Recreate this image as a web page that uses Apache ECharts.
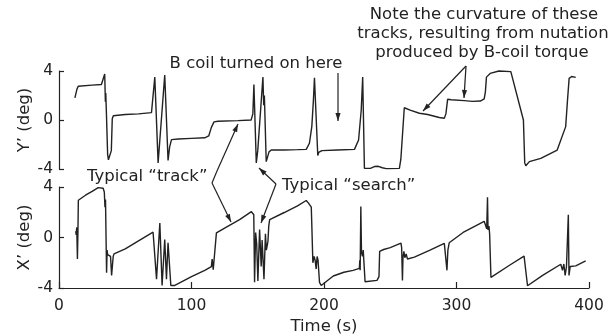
<!DOCTYPE html>
<html>
<head>
<meta charset="utf-8">
<script src="https://cdn.jsdelivr.net/npm/echarts@6/dist/echarts.min.js"></script>
<style>html,body{margin:0;padding:0;background:#fff}#c{width:612px;height:336px}</style>
</head>
<body>
<div id="c"></div>
<script>
// ---- Data ----
var yPrimeTime = [12,13.5,14.5,16,25,32,33.5,34.5,35,35.3,35.8,36.7,37.3,38.5,39.5,40.2,41,50,60,69.8,72.3,74.8,79.8,82.3,83.5,84.9,90,100,110,113,115,117,120,135,145,146.3,147.1,148.9,150,153.9,154.5,155,156.4,157.5,158.5,160.2,170,180,186.6,189,190.8,192,192.8,194.1,195.3,196,198.4,210,223,226.1,228.1,229.2,230.5,235,238,241,244,247,256.9,258,260.6,265,272,278.2,287,290.8,292,293.3,296,305.8,312,318,320.9,321.8,322.6,323.6,325.4,332,341,350.5,351.5,352.3,355,363.6,376,382.4,383.7,385,386.9,390,397.5];
var yPrimeValue = [1.8,2.5,2.75,2.8,2.85,2.9,3.0,3.75,1.5,2.2,0.5,-2.8,-3.25,-3.3,-2.5,0.1,0.35,0.45,0.5,0.6,3.5,-3.5,3.67,-3.3,-2.2,-1.6,-1.55,-1.5,-1.45,-1.3,-0.6,-0.15,-0.1,-0.05,0,0.5,2.9,-3.5,-2.5,3.5,1.2,2.0,-3.4,-3.3,-2.6,-2.45,-2.45,-2.42,-2.4,-1.9,-0.54,1.6,3.45,3.45,-2.9,-2.65,-2.5,-2.45,-2.4,-1.63,0.82,3.5,-3.95,-3.95,-3.8,-3.78,-3.9,-3.97,-3.95,-3.2,1.0,0.8,0.55,0.45,0.2,0.14,0.5,1.69,1.65,1.58,1.52,1.55,1.72,2.3,3.5,3.65,3.8,4.0,3.95,0,-3.5,-3.74,-3.4,-3.13,-2.45,-0.54,1.5,3.4,3.55,3.48];

var xPrimeTime = [12.6,13.0,13.4,13.9,14.3,14.6,16,20,25,29.6,33.3,34.2,34.7,35.1,35.9,36.3,36.7,38.9,39.7,40.9,41.5,50,60,71,73.6,76.1,77.8,79.8,81.1,82.3,84.4,87.4,100,110,115,115.6,116.4,118.8,125,136.3,145.2,146.5,147.0,147.6,148.4,149.2,150.1,151.4,152.6,153.3,154.7,155.8,156.5,157.7,158.3,159,170,180,186.6,188.3,190.4,190.8,191.6,192.5,193.3,194.1,194.8,195.5,196.6,197.9,207,215,222,226.7,227.0,227.3,227.8,228.3,229,229.6,231,232,240,241.5,242,245,250,258.1,258.6,259.2,259.6,260.3,261,262,263,268.2,280,290.8,291.8,292.8,293.5,294.5,305,320.9,322,322.8,323.4,323.8,324.5,325,326,340,351,353.6,365,378.7,380,381,382,383,384.4,384.9,385.8,390,397.5];
var xPrimeValue = [0.5,0.2,0.8,-1.7,0.5,2.95,3.1,3.35,3.65,3.95,3.9,3.6,2.4,3.0,-2.8,-1.0,-1.35,-1.5,-3.0,-1.5,-1.3,-0.9,-0.27,0.42,-3.3,1.15,-3.8,-0.16,-3.3,-0.42,-3.8,-3.8,-3.1,-2.6,-2.3,-1.7,-2.55,0.37,0.75,1.41,2.05,2.15,1.8,-3.55,0.4,-0.5,-3.45,0.63,-2.3,-0.2,-3.3,0.3,-1.0,-0.3,0.9,1.41,1.98,2.5,2.93,2.72,2.4,1.0,-2.0,-1.5,-1.8,-2.5,-1.5,-1.8,-3.55,-3.8,-3.05,-2.75,-2.6,-2.45,-1.8,-2.6,2.46,-1.2,-1.5,-1.0,-3.5,-3.55,-3.4,-3.1,-1.1,-0.95,-0.8,-0.45,-0.8,-3.4,-1.6,-1.1,-1.6,-1.3,-1.7,-1.55,-1.0,-0.47,-0.6,-2.6,-1.0,-0.42,0.4,1.28,1.2,0.7,3.19,0.6,0.9,0.3,-3.16,-2.2,-1.47,-3.82,-3.0,-2.12,-2.6,-2.1,-3.0,-2.3,1.8,-3.0,-2.3,-2.25,-1.86];

var timeTicks = [0, 100, 200, 300, 400];
var degTicks = [-4, 0, 4];

// ---- Chart ----
function zip(a, b) { return a.map(function (t, i) { return [t, b[i]]; }); }
var FONT = 'DejaVu Sans';
var INK = '#222222';

function yAxisCfg(grid, name) {
  return {
    gridIndex: grid, type: 'value', min: degTicks[0], max: degTicks[degTicks.length - 1], interval: 4,
    axisLine: { show: true, onZero: false, lineStyle: { color: INK, width: 1.2 } },
    axisTick: { show: true, inside: true, length: 5, lineStyle: { color: INK, width: 1.2 } },
    axisLabel: { fontSize: 15.5, color: INK, fontFamily: FONT, margin: 6 },
    splitLine: { show: false },
    name: name, nameLocation: 'middle', nameGap: 26, nameRotate: 90, nameMoveOverlap: false,
    nameTextStyle: { fontSize: 16.5, color: INK, fontFamily: FONT }
  };
}

var graphics = [];
function addText(txt, x, y, align) {
  graphics.push({ type: 'text', silent: true, style: { text: txt, x: x, y: y, fill: INK,
    font: '16.5px "' + FONT + '"', textAlign: align || 'center', textVerticalAlign: 'middle',
    align: align || 'center', verticalAlign: 'middle' } });
}
function addArrow(x1, y1, x2, y2, head) {
  graphics.push({ type: 'line', silent: true, shape: { x1: x1, y1: y1, x2: x2, y2: y2 },
    style: { stroke: INK, lineWidth: 1.2 } });
  if (head) {
    var dx = x2 - x1, dy = y2 - y1, L = Math.sqrt(dx * dx + dy * dy);
    var ux = dx / L, uy = dy / L, len = 8, w = 2.6;
    var bx = x2 - ux * len, by = y2 - uy * len;
    graphics.push({ type: 'polygon', silent: true, shape: { points: [[x2, y2], [bx - uy * w, by + ux * w], [bx + uy * w, by - ux * w]] },
      style: { fill: INK } });
  }
}

addText('Note the curvature of these', 484, 15);
addText('tracks, resulting from nutation', 483, 34);
addText('produced by B-coil torque', 482, 53);
addText('B coil turned on here', 256, 64);
addText('Typical \u201Ctrack\u201D', 87, 177, 'left');
addText('Typical \u201Csearch\u201D', 282, 186, 'left');

addArrow(338, 73, 338, 121, true);
addArrow(466, 66, 423, 111, true);
addArrow(466, 66, 464, 98, true);
addArrow(217, 171, 212, 183, false);
addArrow(217, 171, 238, 124, true);
addArrow(212, 183, 231, 222, true);
addArrow(276, 184, 259, 168, true);
addArrow(276, 184, 261, 223, true);

var chart = echarts.init(document.getElementById('c'), null, { renderer: 'canvas' });
chart.setOption({
  animation: false,
  backgroundColor: '#fff',
  grid: [
    { left: 59, width: 530, top: 71, height: 98 },
    { left: 59, width: 530, top: 187, height: 102 }
  ],
  xAxis: [
    { gridIndex: 0, type: 'value', min: 0, max: 400, interval: 100, show: false },
    { gridIndex: 1, type: 'value', min: timeTicks[0], max: timeTicks[timeTicks.length - 1], interval: 100,
      axisLine: { show: true, onZero: false, lineStyle: { color: INK, width: 1.2 } },
      axisTick: { show: true, inside: true, length: 6, lineStyle: { color: INK, width: 1.2 } },
      axisLabel: { fontSize: 15.5, color: INK, fontFamily: FONT, margin: 10 },
      splitLine: { show: false },
      name: 'Time (s)', nameLocation: 'middle', nameGap: 30, nameMoveOverlap: false,
      nameTextStyle: { fontSize: 16.5, color: INK, fontFamily: FONT } }
  ],
  yAxis: [ yAxisCfg(0, "Y\u2019 (deg)"), yAxisCfg(1, "X\u2019 (deg)") ],
  series: [
    { type: 'line', xAxisIndex: 0, yAxisIndex: 0, data: zip(yPrimeTime, yPrimeValue), showSymbol: false, clip: false,
      lineStyle: { color: INK, width: 1.4 } },
    { type: 'line', xAxisIndex: 1, yAxisIndex: 1, data: zip(xPrimeTime, xPrimeValue), showSymbol: false, clip: false,
      lineStyle: { color: INK, width: 1.4 } }
  ],
  graphic: graphics
});
</script>
</body>
</html>
